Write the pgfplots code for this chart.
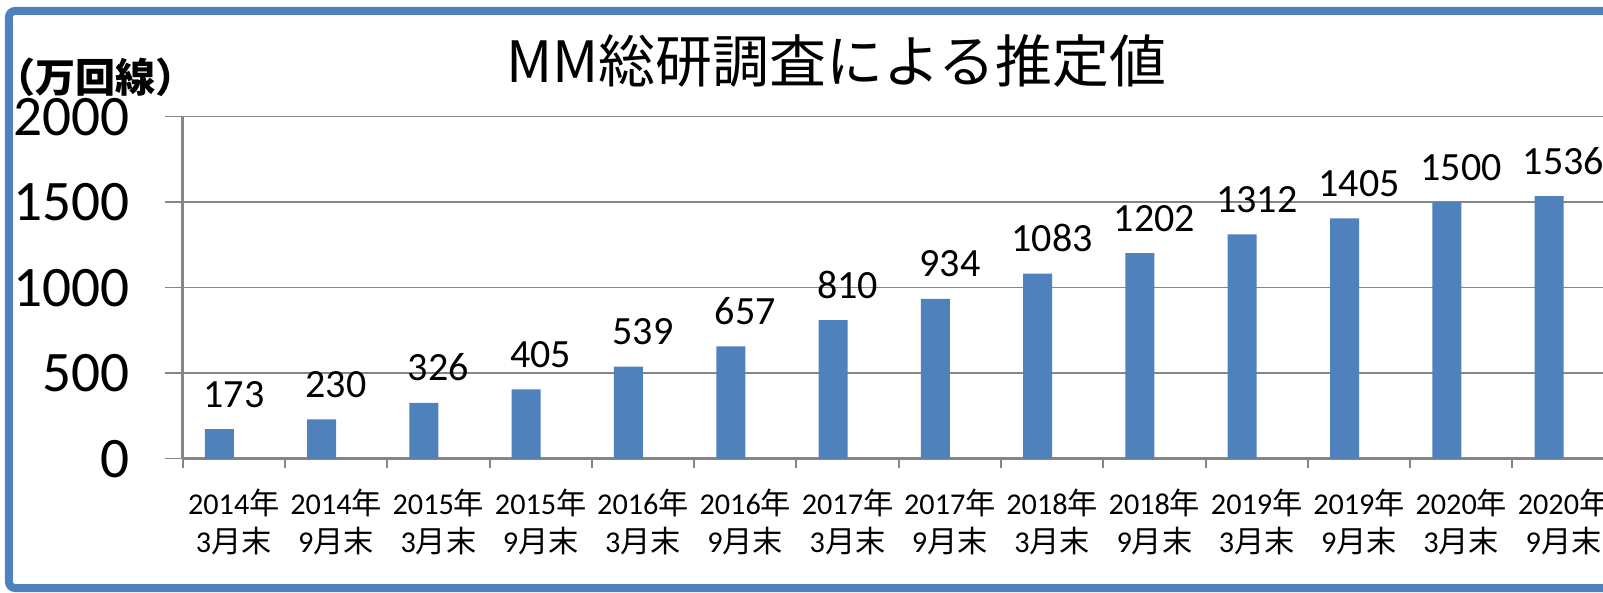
\documentclass[border=0pt]{standalone}
\usepackage{pgfplots}
\pgfplotsset{compat=1.18}
\usepackage{fontspec}
\setmainfont{Carlito}
\newfontfamily\jp{Noto Sans CJK JP}
\definecolor{barblue}{HTML}{4F81BD}
\definecolor{frameblue}{HTML}{4F81BD}
\definecolor{gridgray}{HTML}{868686}
\begin{document}
\begin{tikzpicture}[x=1cm,y=1cm]
\useasboundingbox (0,0) rectangle (16.03,5.92);
\clip (0,0) rectangle (16.03,5.92);
\fill[white] (0,0) rectangle (16.03,5.92);
\begin{axis}[
  at={(1.827cm,1.333cm)}, anchor=south west,
  scale only axis, width=14.32cm, height=3.42cm,
  xmin=-0.5, xmax=13.5, ymin=0, ymax=2000,
  ytick={0,500,1000,1500,2000},
  xtick={0,1,...,13},
  xticklabels={
    2014{\jp 年}\\3{\jp 月末},
    2014{\jp 年}\\9{\jp 月末},
    2015{\jp 年}\\3{\jp 月末},
    2015{\jp 年}\\9{\jp 月末},
    2016{\jp 年}\\3{\jp 月末},
    2016{\jp 年}\\9{\jp 月末},
    2017{\jp 年}\\3{\jp 月末},
    2017{\jp 年}\\9{\jp 月末},
    2018{\jp 年}\\3{\jp 月末},
    2018{\jp 年}\\9{\jp 月末},
    2019{\jp 年}\\3{\jp 月末},
    2019{\jp 年}\\9{\jp 月末},
    2020{\jp 年}\\3{\jp 月末},
    2020{\jp 年}\\9{\jp 月末}},
  minor xtick={-0.5,0.5,...,13.5},
  axis x line*=bottom, axis y line*=left,
  axis line style={gridgray, line width=0.7pt, -},
  ymajorgrids, grid style={gridgray, line width=0.45pt},
  tick align=outside,
  major tick length=0.177cm, minor tick length=0.09cm,
  every major x tick/.append style={draw=none},
  every minor x tick/.append style={gridgray, line width=0.6pt},
  every major y tick/.append style={gridgray, line width=0.45pt},
  /pgf/number format/assume math mode=true,
  /pgf/number format/1000 sep={},
  yticklabel style={font=\fontsize{16.3}{17}\selectfont, xshift=-0.23cm},
  xticklabel style={font=\fontsize{8.6}{10.8}\selectfont, align=center},
  clip=false,
]
\addplot[ybar, bar width=0.29cm, bar shift=-0.145cm, fill=barblue, draw=none,
  nodes near coords,
  every node near coord/.append style={font=\fontsize{11.4}{13}\selectfont, anchor=base, inner sep=0pt, yshift=0.22cm}]
  coordinates {(0,173) (1,230) (2,326) (3,405) (4,539) (5,657) (6,810) (7,934) (8,1083) (9,1202) (10,1312) (11,1405) (12,1500) (13,1536)};
\end{axis}
\draw[frameblue, line width=0.08cm, rounded corners=0.06cm] (0.09,0.04) rectangle (17,5.81);
\node[anchor=center, inner sep=0pt, font=\jp\fontsize{16.2}{19}\selectfont] at (8.365,5.31) {MM総研調査による推定値};
\node[anchor=west, inner sep=0pt, font=\jp\bfseries\fontsize{11.4}{13}\selectfont] at (-0.05,5.15) {（万回線）};
\end{tikzpicture}
\end{document}
